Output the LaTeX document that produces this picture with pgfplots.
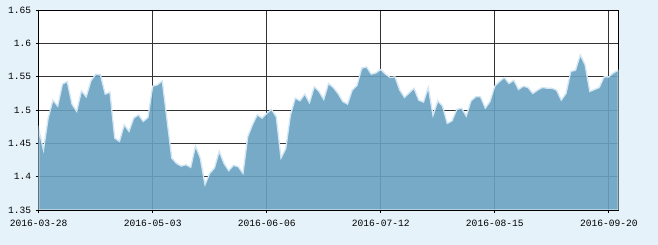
\documentclass[border=0pt]{standalone}
\usepackage{fontspec}
\setmainfont{Liberation Mono}
\usepackage{pgfplots}
\pgfplotsset{compat=1.18}
\definecolor{bgc}{HTML}{E6F2FA}
\definecolor{gridc}{HTML}{333333}
\definecolor{areac}{HTML}{68A1C0}
\definecolor{edgec}{HTML}{D2E6F4}
\begin{document}
\begin{tikzpicture}
\path[use as bounding box, fill=bgc] (-38.7pt,-35pt) rectangle (619.3pt,210pt);
\begin{axis}[
  at={(0pt,0pt)}, anchor=south west,
  scale only axis, width=579.6pt, height=199.7pt,
  xmin=0, xmax=122, ymin=1.35, ymax=1.65,
  axis background/.style={fill=white},
  xtick={0,24,48,72,96,120},
  xticklabels={2016-03-28,2016-05-03,2016-06-06,2016-07-12,2016-08-15,2016-09-20},
  ytick={1.35,1.4,1.45,1.5,1.55,1.6,1.65},
  yticklabels={1.35,1.4,1.45,1.5,1.55,1.6,1.65},
  grid=major,
  major grid style={gridc, line width=0.8pt},
  axis line style={black, line width=0.9pt},
  tick style={black, line width=0.8pt},
  tick align=outside, major tick length=3pt,
  xtick pos=bottom, ytick pos=left,
  tick label style={font=\fontsize{9.6}{10}\selectfont},
  /pgf/number format/assume math mode=true,
  xticklabel style={yshift=-3.5pt},
  yticklabel style={xshift=-1pt},
  axis on top=false,
  clip=true,
]
\addplot[draw=edgec, line width=1.3pt, fill=areac, fill opacity=0.9] coordinates {
(0,1.472)(1,1.440)(2,1.488)(3,1.515)(4,1.506)(5,1.539)(6,1.543)(7,1.509)(8,1.498)(9,1.529)
(10,1.520)(11,1.544)(12,1.554)(13,1.553)(14,1.524)(15,1.527)(16,1.458)(17,1.453)(18,1.478)(19,1.468)
(20,1.488)(21,1.493)(22,1.483)(23,1.489)(24,1.536)(25,1.538)(26,1.544)(27,1.486)(28,1.428)(29,1.420)
(30,1.416)(31,1.418)(32,1.414)(33,1.446)(34,1.428)(35,1.388)(36,1.405)(37,1.413)(38,1.438)(39,1.420)
(40,1.409)(41,1.417)(42,1.415)(43,1.405)(44,1.460)(45,1.478)(46,1.493)(47,1.488)(48,1.495)(49,1.501)
(50,1.490)(51,1.428)(52,1.442)(53,1.493)(54,1.518)(55,1.514)(56,1.524)(57,1.511)(58,1.535)(59,1.528)
(60,1.516)(61,1.540)(62,1.534)(63,1.525)(64,1.513)(65,1.509)(66,1.530)(67,1.537)(68,1.563)(69,1.565)
(70,1.554)(71,1.556)(72,1.561)(73,1.554)(74,1.549)(75,1.550)(76,1.530)(77,1.519)(78,1.526)(79,1.533)
(80,1.515)(81,1.512)(82,1.534)(83,1.492)(84,1.514)(85,1.506)(86,1.480)(87,1.484)(88,1.501)(89,1.503)
(90,1.491)(91,1.514)(92,1.520)(93,1.520)(94,1.503)(95,1.513)(96,1.536)(97,1.543)(98,1.549)(99,1.540)
(100,1.545)(101,1.531)(102,1.536)(103,1.534)(104,1.525)(105,1.530)(106,1.534)(107,1.533)(108,1.533)(109,1.530)
(110,1.515)(111,1.525)(112,1.558)(113,1.560)(114,1.583)(115,1.568)(116,1.528)(117,1.531)(118,1.534)(119,1.550)
(120,1.550)(121,1.556)(122,1.560)
} \closedcycle;
\end{axis}
\end{tikzpicture}
\end{document}
